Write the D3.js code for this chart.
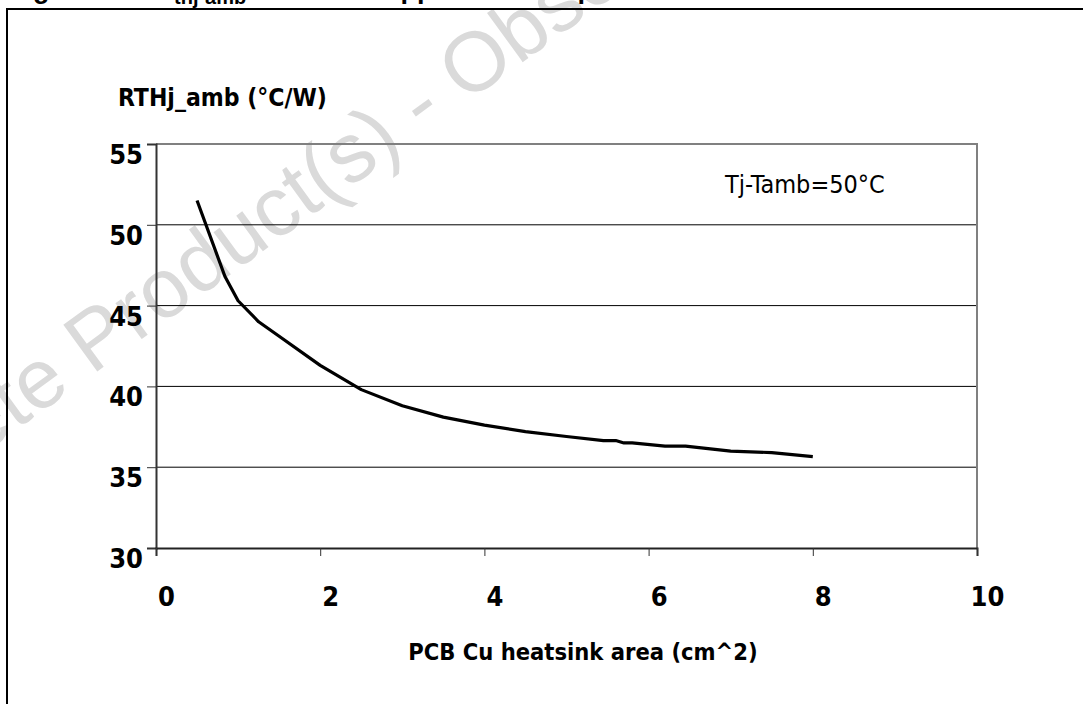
<!DOCTYPE html>
<html>
<head>
<meta charset="utf-8">
<script src="https://cdn.jsdelivr.net/npm/d3@7"></script>
<style>
  body { margin: 0; background: #fff; }
  svg { display: block; }
</style>
</head>
<body>
<div id="chart"></div>
<script>
// curve
const areaCm2 = [0.5, 0.84, 1.0, 1.25, 1.5, 2.0, 2.5, 3.0, 3.5, 4.0, 4.5, 5.0, 5.45, 5.6, 5.7, 5.8, 6.2, 6.45, 7.0, 7.5, 8.0];
const rthAmb = [51.5, 46.8, 45.3, 44.0, 43.1, 41.3, 39.8, 38.8, 38.1, 37.6, 37.2, 36.9, 36.65, 36.65, 36.5, 36.5, 36.3, 36.3, 36.0, 35.9, 35.65];
const xTicks = [0, 2, 4, 6, 8, 10];
const yTicks = [30, 35, 40, 45, 50, 55];

const W = 1083, H = 704;
const font = '"DejaVu Sans Condensed", "DejaVu Sans", sans-serif';

const svg = d3.select('#chart')
  .append('svg')
  .attr('width', W)
  .attr('height', H);

// watermark
svg.append('text')
  .attr('transform', 'translate(418,102) rotate(-36)')
  .attr('text-anchor', 'middle')
  .attr('dy', '0.35em')
  .attr('font-family', '"Liberation Sans", Arial, sans-serif')
  .attr('font-size', 84)
  .attr('fill', '#dadada')
  .text('Obsolete Product(s) - Obsolete Product(s)');

// cut-off caption at the top
const cap = svg.append('g')
  .attr('font-family', '"Liberation Sans", Arial, sans-serif')
  .attr('font-weight', 'bold')
  .attr('fill', '#000');
cap.append('text').attr('x', 9).attr('y', -2).attr('font-size', 27).text('Figure 5.');
cap.append('text').attr('x', 155).attr('y', -2).attr('font-size', 27).text('R');
cap.append('text').attr('x', 174).attr('y', 4).attr('font-size', 20).text('thj-amb');
cap.append('text').attr('x', 264).attr('y', -2).attr('font-size', 27).text('Vs PCB copper area in open box free air condition');

// frame
svg.append('rect')
  .attr('x', 7).attr('y', 9)
  .attr('width', W + 20).attr('height', H + 20)
  .attr('fill', 'none')
  .attr('stroke', '#000')
  .attr('stroke-width', 2);

const x = d3.scaleLinear().domain([0, 10]).range([156, 977]);
const y = d3.scaleLinear().domain([30, 55]).range([548, 144]);

// gridlines
svg.append('g')
  .selectAll('line')
  .data(yTicks.filter(d => d > 30 && d < 55))
  .enter()
  .append('line')
  .attr('x1', x(0)).attr('x2', x(10))
  .attr('y1', d => y(d)).attr('y2', d => y(d))
  .attr('stroke', '#000')
  .attr('stroke-width', 1);

// plot border top / right
svg.append('path')
  .attr('d', `M${x(0)},${y(55)}H${x(10)}V${y(30)}`)
  .attr('fill', 'none')
  .attr('stroke', '#808080')
  .attr('stroke-width', 2);

// y axis
const yAxis = svg.append('g')
  .attr('transform', `translate(${x(0)},0)`)
  .call(d3.axisLeft(y).tickValues(yTicks).tickSize(9).tickPadding(4));
yAxis.select('.domain').attr('stroke', '#333').attr('stroke-width', 2);
yAxis.selectAll('.tick line').attr('stroke', '#333');
yAxis.selectAll('.tick text')
  .attr('dy', '0.72em')
  .attr('font-family', font)
  .attr('font-weight', 'bold')
  .attr('font-size', 27)
  .attr('fill', '#000');

// x axis
const xAxis = svg.append('g')
  .attr('transform', `translate(0,${y(30)})`)
  .call(d3.axisBottom(x).tickValues(xTicks).tickSize(8).tickPadding(31));
xAxis.select('.domain').attr('stroke', '#222').attr('stroke-width', 2);
xAxis.selectAll('.tick line').attr('stroke', '#333');
xAxis.selectAll('.tick text')
  .attr('dx', 10)
  .attr('font-family', font)
  .attr('font-weight', 'bold')
  .attr('font-size', 27)
  .attr('fill', '#000');

// curve
const line = d3.line()
  .x((d, i) => x(areaCm2[i]))
  .y(d => y(d));
svg.append('path')
  .datum(rthAmb)
  .attr('d', line)
  .attr('fill', 'none')
  .attr('stroke', '#000')
  .attr('stroke-width', 3.2)
  .attr('stroke-linejoin', 'round');

// labels
svg.append('text')
  .attr('x', 118).attr('y', 106)
  .attr('font-family', font)
  .attr('font-weight', 'bold')
  .attr('font-size', 24.5)
  .text('RTHj_amb (°C/W)');

svg.append('text')
  .attr('x', 583).attr('y', 660)
  .attr('text-anchor', 'middle')
  .attr('font-family', font)
  .attr('font-weight', 'bold')
  .attr('font-size', 23.5)
  .text('PCB Cu heatsink area (cm^2)');

svg.append('text')
  .attr('x', 725).attr('y', 193)
  .attr('font-family', font)
  .attr('font-size', 25)
  .text('Tj-Tamb=50°C');
</script>
</body>
</html>
